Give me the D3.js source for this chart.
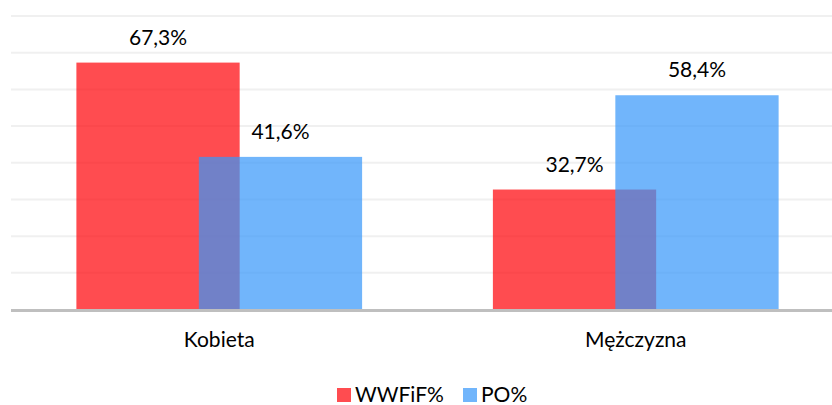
<!DOCTYPE html>
<html>
<head>
<meta charset="utf-8">
<script src="https://cdn.jsdelivr.net/npm/d3@7"></script>
<style>
  body { margin: 0; background: #fff; }
  text { font-family: Lato, "Open Sans", sans-serif; fill: #000; }
</style>
</head>
<body>
<svg id="chart" width="832" height="405"></svg>
<script>
// data
var categories = ["Kobieta", "Mężczyzna"];
var series = ["WWFiF%", "PO%"];
var wwfif = [67.3, 32.7];
var po = [41.6, 58.4];
var gridTicks = [0, 10, 20, 30, 40, 50, 60, 70, 80];

var colors = {
    "WWFiF%": "rgba(255, 0, 5, 0.7)",
    "PO%": "rgba(55, 151, 250, 0.71)"
};

var rows = categories.map(function (c, i) {
    return { cat: c, values: [{ key: "WWFiF%", v: wwfif[i] }, { key: "PO%", v: po[i] }] };
});

var svg = d3.select("#chart");
var fmt = function (v) { return d3.format(".1f")(v).replace(".", ",") + "%"; };

var x = d3.scaleBand().domain(categories).range([11, 844]).padding(0);
var y = d3.scaleLinear().domain([0, 80]).range([309.5, 16]);

var barW = x.bandwidth() * 0.392;
var shift = barW * 0.75;

// gridlines
svg.append("g")
    .selectAll("line")
    .data(gridTicks.slice(1))
    .enter()
    .append("line")
    .attr("x1", 11)
    .attr("x2", 832)
    .attr("y1", function (d) { return y(d); })
    .attr("y2", function (d) { return y(d); })
    .attr("stroke", "#f0f0f0")
    .attr("stroke-width", 2);

var groups = svg.selectAll(".cat")
    .data(rows)
    .enter()
    .append("g")
    .attr("class", "cat")
    .attr("transform", function (d) {
        return "translate(" + (x(d.cat) + x.bandwidth() / 2) + ",0)";
    });

var left = -(barW + shift) / 2;

groups.selectAll("rect")
    .data(function (d) { return d.values; })
    .enter()
    .append("rect")
    .attr("x", function (d, i) { return left + i * shift; })
    .attr("y", function (d) { return y(d.v); })
    .attr("width", barW)
    .attr("height", function (d) { return y(0) - y(d.v); })
    .attr("fill", function (d) { return colors[d.key]; });

groups.selectAll(".lbl")
    .data(function (d) { return d.values; })
    .enter()
    .append("text")
    .attr("class", "lbl")
    .attr("x", function (d, i) { return left + i * shift + barW / 2; })
    .attr("y", function (d) { return y(d.v) - 18; })
    .attr("text-anchor", "middle")
    .style("font-size", "21px")
    .text(function (d) { return fmt(d.v); });

// baseline
svg.append("line")
    .attr("x1", 11)
    .attr("x2", 832)
    .attr("y1", y(0) + 1)
    .attr("y2", y(0) + 1)
    .attr("stroke", "#bfbfbf")
    .attr("stroke-width", 3);

// category axis
var xAxis = svg.append("g")
    .attr("transform", "translate(0," + y(0) + ")")
    .call(d3.axisBottom(x).tickSize(0).tickPadding(23));
xAxis.select(".domain").remove();
xAxis.selectAll("text")
    .style("font-family", "Lato, sans-serif")
    .style("font-size", "21px")
    .attr("fill", "#000");

// legend
var legendX = [337, 463];
var legend = svg.selectAll(".legend")
    .data(series)
    .enter()
    .append("g")
    .attr("class", "legend")
    .attr("transform", function (d, i) { return "translate(" + legendX[i] + ",388)"; });

legend.append("rect")
    .attr("width", 14)
    .attr("height", 14)
    .attr("fill", function (d) { return colors[d]; });

legend.append("text")
    .attr("x", 18)
    .attr("y", 14)
    .style("font-size", "21px")
    .text(function (d) { return d; });
</script>
</body>
</html>
